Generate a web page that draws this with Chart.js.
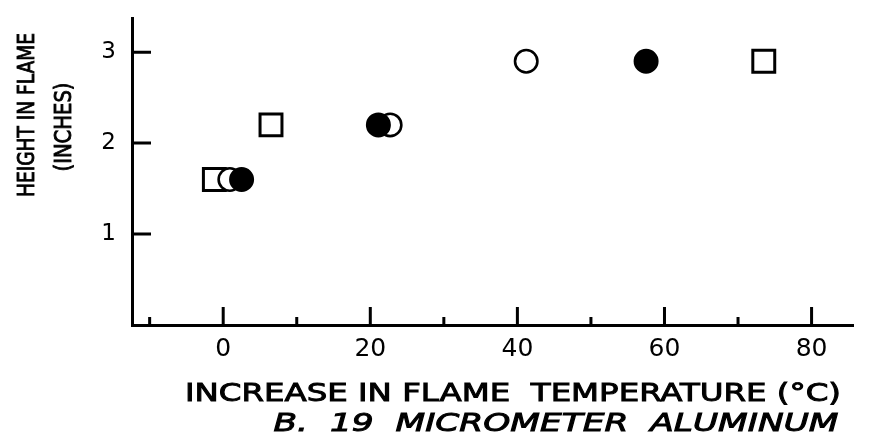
<!DOCTYPE html>
<html>
<head>
<meta charset="utf-8">
<script src="https://cdn.jsdelivr.net/npm/chart.js@4.4.0/dist/chart.umd.js"></script>
<style>
  html, body { margin: 0; padding: 0; background: #fff; }
  #wrap { width: 872px; height: 443px; position: relative; }
</style>
</head>
<body>
<div id="wrap"><canvas id="chart"></canvas></div>
<script>
// values
const heights = [1.6, 2.2, 2.9];
const squareTemps = [-1.2, 6.5, 73.5];
const openCircleTemps = [0.9, 22.7, 41.2];
const filledCircleTemps = [2.5, 21.1, 57.5];

const xTicks = [0, 20, 40, 60, 80];
const xMinorTicks = [-10, 10, 30, 50, 70];
const yTicks = [1, 2, 3];

const yTitle = ['HEIGHT IN FLAME', '(INCHES)'];
const xTitle = 'INCREASE IN FLAME  TEMPERATURE (\u00B0C)';
const caption = 'B.  19  MICROMETER  ALUMINUM';

const FONT = "'DejaVu Sans', sans-serif";

function points(xs) {
    return xs.map((x, i) => ({ x: x, y: heights[i] }));
}

// draw text squeezed/stretched to a given length, slightly heavier stroke
function fitText(ctx, text, cx, cy, len, font, rotate) {
    ctx.save();
    ctx.font = font;
    const w = ctx.measureText(text).width;
    ctx.translate(cx, cy);
    if (rotate) ctx.rotate(-Math.PI / 2);
    ctx.scale(len / w, 1);
    ctx.textAlign = 'center';
    ctx.textBaseline = 'middle';
    ctx.fillStyle = '#000';
    ctx.strokeStyle = '#000';
    ctx.lineWidth = 0.9;
    ctx.fillText(text, 0, 0);
    ctx.strokeText(text, 0, 0);
    ctx.restore();
}

// inward tick marks + titles
const decorations = {
    id: 'decorations',
    afterDraw(chart) {
        const ctx = chart.ctx;
        const area = chart.chartArea;
        const xs = chart.scales.x, ys = chart.scales.y;
        ctx.save();
        ctx.strokeStyle = '#000';
        ctx.lineWidth = 3;
        ctx.beginPath();
        yTicks.forEach(v => {
            const py = ys.getPixelForValue(v);
            ctx.moveTo(area.left, py);
            ctx.lineTo(area.left + 19, py);
        });
        xTicks.forEach(v => {
            const px = xs.getPixelForValue(v);
            ctx.moveTo(px, area.bottom);
            ctx.lineTo(px, area.bottom - 18);
        });
        xMinorTicks.forEach(v => {
            const px = xs.getPixelForValue(v);
            ctx.moveTo(px, area.bottom);
            ctx.lineTo(px, area.bottom - 8);
        });
        ctx.stroke();
        ctx.restore();

        fitText(ctx, yTitle[0], 28, 115, 164, '23px ' + FONT, true);
        fitText(ctx, yTitle[1], 65, 127, 89, '23px ' + FONT, true);
        fitText(ctx, xTitle, 513, 395, 656, '24px ' + FONT, false);
        fitText(ctx, caption, 556, 425, 565, 'italic 24px ' + FONT, false);
    }
};

new Chart(document.getElementById('chart'), {
    type: 'scatter',
    data: {
        datasets: [
            {
                label: 'filled circles',
                data: points(filledCircleTemps),
                pointStyle: 'circle',
                pointRadius: 11.5,
                pointHoverRadius: 11.5,
                backgroundColor: '#000',
                borderColor: '#000',
                borderWidth: 2
            },
            {
                label: 'open circles',
                data: points(openCircleTemps),
                pointStyle: 'circle',
                pointRadius: 11.2,
                pointHoverRadius: 11.2,
                backgroundColor: '#fff',
                borderColor: '#000',
                borderWidth: 2.6
            },
            {
                label: 'squares',
                data: points(squareTemps),
                pointStyle: 'rect',
                pointRadius: 15.5,
                pointHoverRadius: 15.5,
                backgroundColor: '#fff',
                borderColor: '#000',
                borderWidth: 3
            }
        ]
    },
    options: {
        responsive: true,
        maintainAspectRatio: false,
        animation: false,
        events: [],
        clip: false,
        layout: { padding: { top: 15, right: 2, left: 0, bottom: 0 } },
        plugins: {
            legend: { display: false },
            tooltip: { enabled: false }
        },
        scales: {
            x: {
                type: 'linear',
                min: -12.4,
                max: 85.7,
                afterBuildTicks: (scale) => { scale.ticks = xTicks.map(v => ({ value: v })); },
                afterFit: (scale) => {
                    scale.height = 118;
                    scale.paddingLeft = 0;
                    scale.paddingRight = 0;
                },
                grid: { display: false, drawTicks: false },
                border: { display: true, color: '#000', width: 3 },
                ticks: {
                    color: '#000',
                    padding: 9,
                    maxRotation: 0,
                    font: { family: FONT, size: 25 }
                }
            },
            y: {
                type: 'linear',
                min: 0,
                max: 3.37,
                afterBuildTicks: (scale) => { scale.ticks = yTicks.map(v => ({ value: v })); },
                afterFit: (scale) => {
                    scale.width = 132;
                    scale.paddingTop = 0;
                    scale.paddingBottom = 0;
                },
                grid: { display: false, drawTicks: false },
                border: { display: true, color: '#000', width: 3 },
                ticks: {
                    color: '#000',
                    padding: 16,
                    font: { family: FONT, size: 23 }
                }
            }
        }
    },
    plugins: [decorations]
});
</script>
</body>
</html>
